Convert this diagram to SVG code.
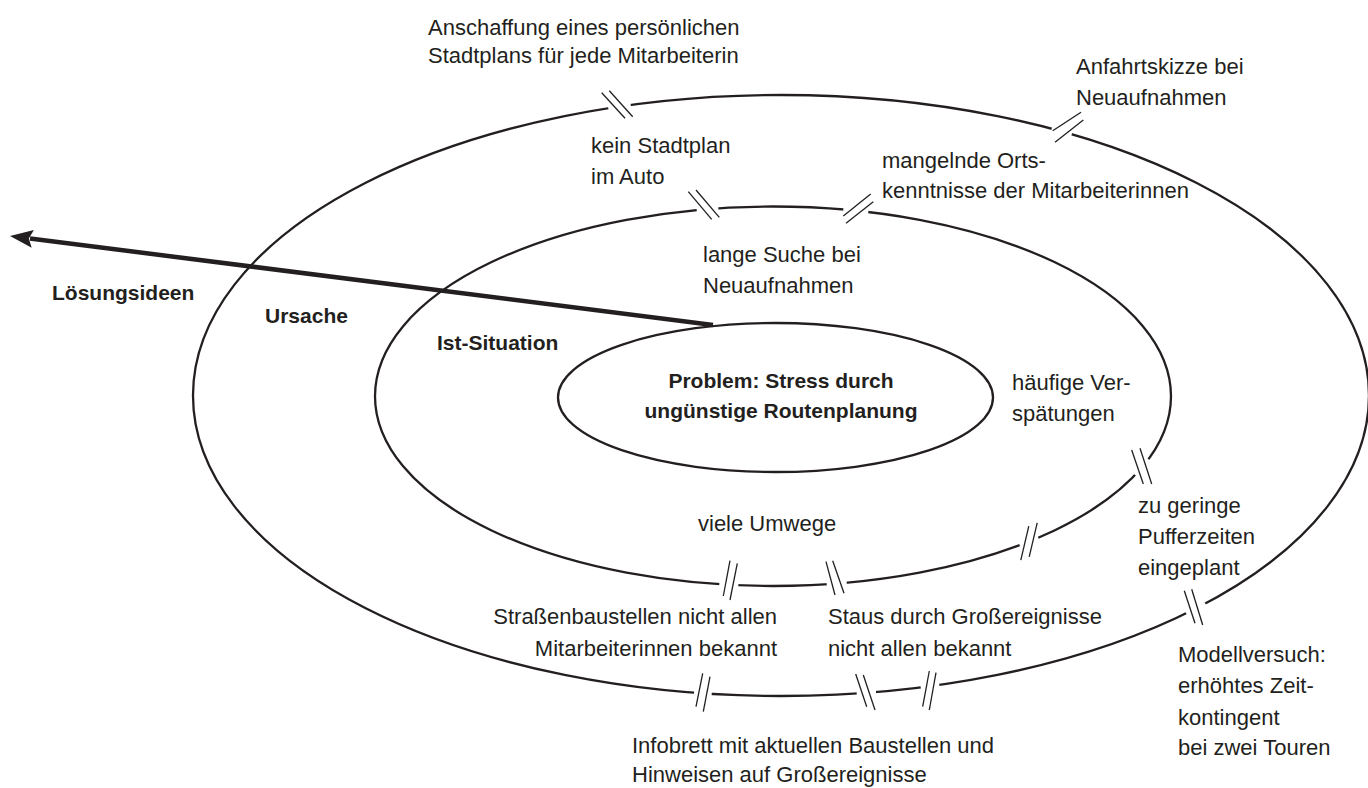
<svg xmlns="http://www.w3.org/2000/svg" width="1368" height="788" viewBox="0 0 1368 788">
<style>
  .ring { fill: none; stroke: #231f20; stroke-width: 2.3; }
  .gap { stroke: #ffffff; stroke-width: 7; stroke-linecap: butt; }
  .tick { stroke: #231f20; stroke-width: 1.3; stroke-linecap: butt; }
  .t { font-family: "Liberation Sans", Arial, sans-serif; font-size: 22px; fill: #231f20; }
  .b { font-family: "Liberation Sans", Arial, sans-serif; font-size: 21px; font-weight: bold; fill: #231f20; }
  .c { text-anchor: middle; }
  .e { text-anchor: end; }
</style>
<rect width="1368" height="788" fill="#ffffff"/>

<g id="ursache">
  <ellipse class="ring" cx="781" cy="395.5" rx="588" ry="300.5"/>
  <text class="b" x="265" y="323">Ursache</text>
</g>
<g id="ist-situation">
  <ellipse class="ring" cx="773" cy="396.25" rx="398" ry="189.75"/>
  <text class="b" x="437" y="350">Ist-Situation</text>
</g>
<g id="problem">
  <ellipse class="ring" cx="775.5" cy="397.5" rx="217.5" ry="74.5"/>
  <text class="b c" x="781" y="388">Problem: Stress durch</text>
  <text class="b c" x="781" y="418">ungünstige Routenplanung</text>
</g>

<g id="breaks">
  <line class="gap" x1="608.3" y1="108.3" x2="630.7" y2="104.8"/>
  <line class="gap" x1="696.7" y1="210" x2="718.3" y2="208.3"/>
  <line class="gap" x1="843.3" y1="209.5" x2="868.3" y2="212"/>
  <line class="gap" x1="1051.7" y1="128.7" x2="1071.7" y2="134.3"/>
  <line class="gap" x1="1148.4" y1="459.3" x2="1135.1" y2="475"/>
  <line class="gap" x1="1019.7" y1="545.2" x2="1038.3" y2="537.8"/>
  <line class="gap" x1="719.3" y1="584.3" x2="738.3" y2="585.3"/>
  <line class="gap" x1="826.7" y1="584.3" x2="846.7" y2="582.7"/>
  <line class="gap" x1="694" y1="692.7" x2="711.7" y2="694"/>
  <line class="gap" x1="856.7" y1="692.5" x2="876" y2="692.1"/>
  <line class="gap" x1="920.7" y1="687.4" x2="939.3" y2="684.9"/>
  <line class="gap" x1="1186.1" y1="613.3" x2="1205" y2="603"/>

  <line class="tick" x1="601.7" y1="92.7" x2="625" y2="118.3"/>
  <line class="tick" x1="609.3" y1="90.7" x2="632.7" y2="116.7"/>
  <line class="tick" x1="688.3" y1="191.7" x2="711.7" y2="219.3"/>
  <line class="tick" x1="696" y1="190" x2="719.3" y2="217.3"/>
  <line class="tick" x1="843.3" y1="216" x2="870.7" y2="194"/>
  <line class="tick" x1="846" y1="223.3" x2="873.3" y2="201.7"/>
  <line class="tick" x1="1052.7" y1="130.7" x2="1081" y2="112.3"/>
  <line class="tick" x1="1055" y1="142.3" x2="1083.3" y2="120"/>
  <line class="tick" x1="1131.7" y1="450" x2="1143.3" y2="484"/>
  <line class="tick" x1="1140" y1="448.3" x2="1151.7" y2="484"/>
  <line class="tick" x1="1020.8" y1="560.2" x2="1028.8" y2="526.2"/>
  <line class="tick" x1="1029.2" y1="556.8" x2="1037.2" y2="522.8"/>
  <line class="tick" x1="730" y1="560.7" x2="723.3" y2="596"/>
  <line class="tick" x1="737.3" y1="563.3" x2="730" y2="600"/>
  <line class="tick" x1="826" y1="561.7" x2="835" y2="595"/>
  <line class="tick" x1="832.7" y1="560.7" x2="844" y2="593.3"/>
  <line class="tick" x1="702.7" y1="673.3" x2="696" y2="706.7"/>
  <line class="tick" x1="710" y1="676.7" x2="703.3" y2="711.7"/>
  <line class="tick" x1="855.7" y1="674" x2="866.7" y2="706.7"/>
  <line class="tick" x1="863.3" y1="675" x2="875" y2="710"/>
  <line class="tick" x1="929.3" y1="671" x2="922.7" y2="706.7"/>
  <line class="tick" x1="936" y1="672.7" x2="929.3" y2="710"/>
  <line class="tick" x1="1184.3" y1="590.7" x2="1195" y2="623.3"/>
  <line class="tick" x1="1191.7" y1="589.3" x2="1202.7" y2="625"/>
</g>

<g id="connectors">
  <line x1="713" y1="325" x2="30" y2="238.5" stroke="#231f20" stroke-width="4.5"/>
  <polygon points="10,236 33.9,230 28.8,238.4 31.7,247.8" fill="#231f20"/>
</g>

<g id="loesungsideen">
  <text class="b" x="52" y="300">Lösungsideen</text>
</g>

<g id="texts">
  <text class="t" x="428" y="35">Anschaffung eines persönlichen</text>
  <text class="t" x="428" y="63">Stadtplans für jede Mitarbeiterin</text>
  <text class="t" x="1076" y="74">Anfahrtskizze bei</text>
  <text class="t" x="1076" y="105">Neuaufnahmen</text>
  <text class="t" x="591" y="153">kein Stadtplan</text>
  <text class="t" x="591" y="184">im Auto</text>
  <text class="t" x="882" y="168">mangelnde Orts-</text>
  <text class="t" x="882" y="198">kenntnisse der Mitarbeiterinnen</text>
  <text class="t" x="703" y="262">lange Suche bei</text>
  <text class="t" x="703" y="293">Neuaufnahmen</text>
  <text class="t" x="1012" y="390">häufige Ver-</text>
  <text class="t" x="1012" y="421">spätungen</text>
  <text class="t" x="1138" y="513">zu geringe</text>
  <text class="t" x="1138" y="544">Pufferzeiten</text>
  <text class="t" x="1138" y="575">eingeplant</text>
  <text class="t" x="698" y="531">viele Umwege</text>
  <text class="t e" x="777" y="624">Straßenbaustellen nicht allen</text>
  <text class="t e" x="777" y="656">Mitarbeiterinnen bekannt</text>
  <text class="t" x="828" y="624">Staus durch Großereignisse</text>
  <text class="t" x="828" y="656">nicht allen bekannt</text>
  <text class="t" x="1178" y="662">Modellversuch:</text>
  <text class="t" x="1178" y="693">erhöhtes Zeit-</text>
  <text class="t" x="1178" y="725">kontingent</text>
  <text class="t" x="1178" y="755">bei zwei Touren</text>
  <text class="t" x="632" y="753">Infobrett mit aktuellen Baustellen und</text>
  <text class="t" x="632" y="782">Hinweisen auf Großereignisse</text>
</g>
</svg>
